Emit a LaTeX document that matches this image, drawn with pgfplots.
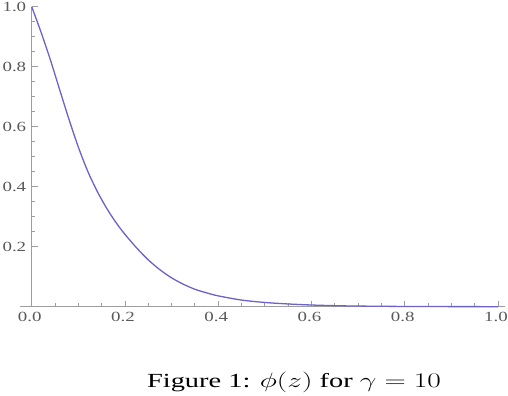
\documentclass[border=0pt]{standalone}
\usepackage{graphicx}
\usepackage{fontspec}
\setmainfont{Liberation Serif}
\newfontfamily\tickfont[FakeStretch=1.35]{Liberation Serif}
\usepackage{pgfplots}
\pgfplotsset{compat=1.18}
\definecolor{curve}{rgb}{0.42,0.39,0.78}
\definecolor{axgray}{rgb}{0.62,0.62,0.62}
\definecolor{labgray}{rgb}{0.35,0.35,0.35}
\begin{document}
\begin{tikzpicture}
\begin{axis}[
  scale only axis,
  width=485pt, height=300pt,
  xmin=-0.025, xmax=1.015,
  ymin=0, ymax=1.0,
  axis lines=middle,
  axis line style={axgray, line width=1.1pt, -},
  every tick/.style={axgray, line width=0.9pt},
  tick align=inside,
  major tick length=6pt,
  minor tick length=3.5pt,
  xtick={0,0.2,0.4,0.6,0.8,1.0},
  ytick={0.2,0.4,0.6,0.8,1.0},
  minor tick num=3,
  hide obscured x ticks=false,
  hide obscured y ticks=false,
  /pgf/number format/assume math mode=true,
  xticklabel style={/pgf/number format/fixed, /pgf/number format/precision=1, /pgf/number format/fixed zerofill, font=\tickfont\fontsize{14}{16}\selectfont, text=labgray, yshift=-2pt, xshift=-2pt},
  yticklabel style={/pgf/number format/fixed, /pgf/number format/precision=1, /pgf/number format/fixed zerofill, font=\tickfont\fontsize{14}{16}\selectfont, text=labgray, xshift=-2pt},
  clip=false,
]
\addplot[curve, line width=1.3pt, smooth] coordinates {
  (0,1.0) (0.02,0.915) (0.04,0.823) (0.06,0.723) (0.08,0.624) (0.10,0.532)
  (0.12,0.452) (0.14,0.386) (0.16,0.330) (0.18,0.282) (0.20,0.241)
  (0.225,0.196) (0.25,0.156) (0.275,0.123) (0.30,0.096) (0.325,0.075)
  (0.35,0.058) (0.375,0.046) (0.40,0.036) (0.45,0.022) (0.50,0.014)
  (0.55,0.009) (0.60,0.0055) (0.65,0.0033) (0.70,0.002) (0.80,0.0007)
  (0.90,0.0002) (1.0,0.0)
};
\node[anchor=base, font=\fontsize{20}{24}\selectfont] at (axis cs:0.5625,-0.268)
  {\scalebox{1.42}[1]{Figure 1: $\phi(z)$ for $\gamma = 10$}};
\coordinate (bl) at (axis cs:-0.068,-0.2977);
\coordinate (tr) at (axis cs:1.0214,1.0223);
\end{axis}
\pgfresetboundingbox
\useasboundingbox (bl) rectangle (tr);
\end{tikzpicture}
\end{document}
